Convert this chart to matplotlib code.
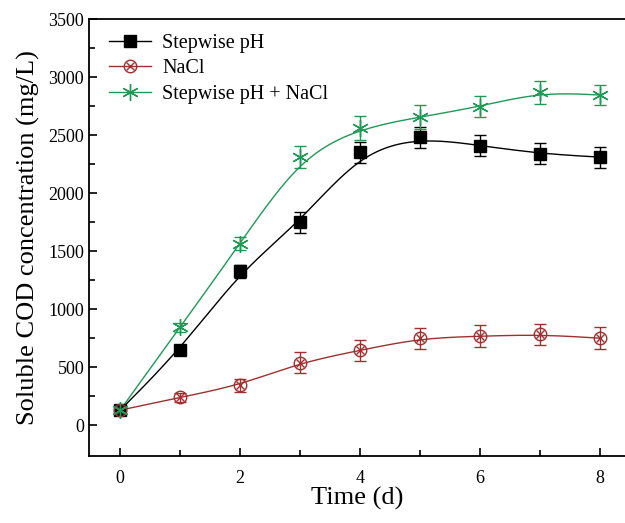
import numpy as np
import matplotlib
matplotlib.use("Agg")
import matplotlib.pyplot as plt
from matplotlib.lines import Line2D
from matplotlib.legend_handler import HandlerTuple

plt.rcParams["font.family"] = ["Liberation Serif", "DejaVu Serif"]

# data
days = [0, 1, 2, 3, 4, 5, 6, 7, 8]
ph_cod = [130, 650, 1325, 1750, 2350, 2480, 2410, 2340, 2310]
ph_err = [30, 30, 55, 90, 90, 90, 93, 93, 90]
nacl_cod = [130, 240, 345, 540, 645, 750, 767, 782, 750]
nacl_err = [30, 40, 55, 93, 92, 92, 93, 93, 95]
mix_cod = [130, 845, 1565, 2310, 2560, 2655, 2745, 2870, 2845]
mix_err = [30, 40, 57, 98, 100, 100, 90, 100, 90]

c_ph = "black"
c_nacl = "#a0302f"
c_mix = "#1f9a55"


def bspline(xs, ys, n=40):
    # clamped uniform cubic B-spline, like Origin's B-spline connect
    px = np.r_[[xs[0]] * 2, xs, [xs[-1]] * 2].astype(float)
    py = np.r_[[ys[0]] * 2, ys, [ys[-1]] * 2].astype(float)
    t = np.linspace(0, 1, n)
    b0 = (1 - t) ** 3 / 6
    b1 = (3 * t ** 3 - 6 * t ** 2 + 4) / 6
    b2 = (-3 * t ** 3 + 3 * t ** 2 + 3 * t + 1) / 6
    b3 = t ** 3 / 6
    outx, outy = [], []
    for i in range(len(px) - 3):
        outx.append(b0 * px[i] + b1 * px[i + 1] + b2 * px[i + 2] + b3 * px[i + 3])
        outy.append(b0 * py[i] + b1 * py[i + 1] + b2 * py[i + 2] + b3 * py[i + 3])
    return np.concatenate(outx), np.concatenate(outy)


fig = plt.figure(figsize=(6.25, 5.23), dpi=100)
ax = fig.add_axes([89 / 625, 1 - 456 / 523, 1 - 89 / 625, 437 / 523])

for ys, err, col in [(ph_cod, ph_err, c_ph), (nacl_cod, nacl_err, c_nacl), (mix_cod, mix_err, c_mix)]:
    sx, sy = bspline(days, ys)
    ax.plot(sx, sy, color=col, lw=1.0, zorder=2)
    ax.errorbar(days, ys, yerr=err, fmt="none", ecolor=col, elinewidth=1.0, capsize=4, capthick=1.0, zorder=3)

ax.plot(days, ph_cod, "s", color=c_ph, ms=8, zorder=4)
ax.plot(days, nacl_cod, "o", mfc="none", mec=c_nacl, mew=1.0, ms=9, zorder=4)
ax.plot(days, nacl_cod, "x", color=c_nacl, mew=1.0, ms=6, zorder=4)
ax.plot(days, mix_cod, marker=(6, 2, 0), ls="none", color=c_mix, mew=1.0, ms=12, zorder=4)

h_ph = Line2D([], [], color=c_ph, lw=1.0, marker="s", ms=8)
h_nacl = (Line2D([], [], color=c_nacl, lw=1.0, marker="o", mfc="none", ms=9),
          Line2D([], [], color=c_nacl, lw=0, marker="x", ms=6))
h_mix = Line2D([], [], color=c_mix, lw=1.0, marker=(6, 2, 0), ms=12)
ax.legend([h_ph, h_nacl, h_mix], ["Stepwise pH", "NaCl", "Stepwise pH + NaCl"],
          handler_map={tuple: HandlerTuple(ndivide=1)}, loc="upper left",
          frameon=False, fontsize=14.5, handlelength=2.1, labelspacing=0.32,
          handletextpad=0.55, borderaxespad=0.0, bbox_to_anchor=(0.022, 0.985))

ax.set_xlim(-0.52, 8.42)
ax.set_ylim(-265, 3500)
ax.set_xticks([0, 2, 4, 6, 8])
ax.set_xticks([1, 3, 5, 7], minor=True)
ax.set_yticks(np.arange(0, 3501, 500))
ax.set_yticks(np.arange(250, 3500, 500), minor=True)
ax.tick_params(which="both", direction="in", labelsize=13, width=1.2)
ax.tick_params(which="major", length=6)
ax.tick_params(which="minor", length=4)
ax.tick_params(axis="x", pad=10)
ax.spines["right"].set_visible(False)
for s in ["left", "bottom", "top"]:
    ax.spines[s].set_linewidth(1.3)

ax.set_xlabel("Time (d)", fontsize=19, labelpad=0)
ax.set_ylabel("Soluble COD concentration (mg/L)", fontsize=19, labelpad=6)

fig.savefig("out.png", dpi=100)
